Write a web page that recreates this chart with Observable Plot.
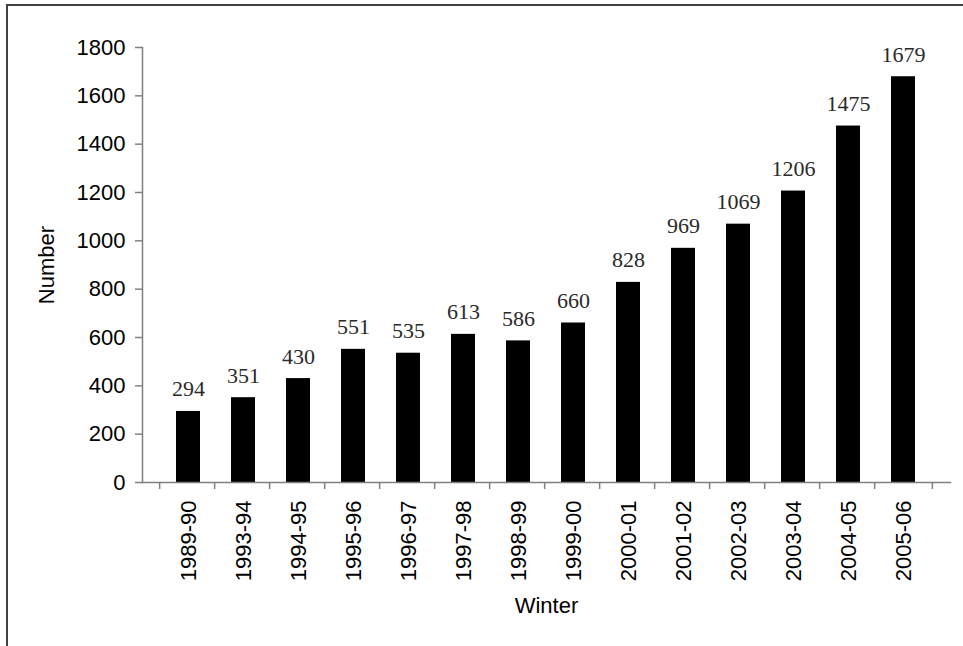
<!DOCTYPE html>
<html><head><meta charset="utf-8">
<script src="https://cdn.jsdelivr.net/npm/d3@7"></script>
<script src="https://cdn.jsdelivr.net/npm/@observablehq/plot@0.6"></script>
<style>
body{margin:0;background:#fff;}
#wrap{position:relative;width:963px;height:646px;overflow:hidden;background:#fff;}
#border{position:absolute;left:6px;top:4px;width:980px;height:700px;border-top:2px solid #404040;border-left:2px solid #404040;pointer-events:none;}
</style></head><body><div id="wrap"><div id="chart"></div><div id="border"></div></div>
<script>
const winters = ["1989-90","1993-94","1994-95","1995-96","1996-97","1997-98","1998-99","1999-00","2000-01","2001-02","2002-03","2003-04","2004-05","2005-06"];
const numbers = [294,351,430,551,535,613,586,660,828,969,1069,1206,1475,1679];
const yTicks = [0,200,400,600,800,1000,1200,1400,1600,1800];

const data = winters.map((w, i) => ({winter: w, number: numbers[i]}));

const W = 963, H = 646, ML = 142, MR = 13, MT = 47, MB = 164;
const step = (W - ML - MR) / winters.length;
const axisGray = "#808080";

const chart = Plot.plot({
  width: W, height: H,
  marginLeft: ML, marginRight: MR, marginTop: MT, marginBottom: MB,
  style: {fontFamily: "'Liberation Sans', Arial, sans-serif", fontSize: "22px", color: "#000", background: "transparent"},
  x: {domain: winters, padding: 0.56},
  y: {domain: [0, 1800]},
  marks: [
    Plot.barY(data, {x: "winter", y: "number", fill: "#000"}),
    Plot.frame({anchor: "left", stroke: axisGray, strokeWidth: 1.5}),
    Plot.frame({anchor: "bottom", stroke: axisGray, strokeWidth: 1.5}),
    Plot.axisY({ticks: yTicks, tickFormat: d => String(d), tickSize: 7, tickPadding: 10, stroke: axisGray, strokeWidth: 1.5, fill: "#000",
      label: "Number", labelAnchor: "center", labelArrow: "none", labelOffset: 104}),
    Plot.axisX({tickSize: 0, tickPadding: 18, tickRotate: -90, fill: "#000",
      label: "Winter", labelAnchor: "center", labelArrow: "none", labelOffset: 130}),
    Plot.axisX({tickSize: 7, tickFormat: () => "", dx: -step / 2, stroke: axisGray, strokeWidth: 1.5, label: null}),
    Plot.axisX({ticks: [winters[winters.length - 1]], tickSize: 7, tickFormat: () => "", dx: step / 2, stroke: axisGray, strokeWidth: 1.5, label: null}),
    Plot.text(data, {x: "winter", y: "number", text: d => String(d.number), dy: -15, lineAnchor: "bottom",
      fontFamily: "'Liberation Serif', 'Times New Roman', serif", fontSize: 22, fill: "#2a2a2a"})
  ]
});
document.getElementById("chart").appendChild(chart);
</script>
</body></html>
